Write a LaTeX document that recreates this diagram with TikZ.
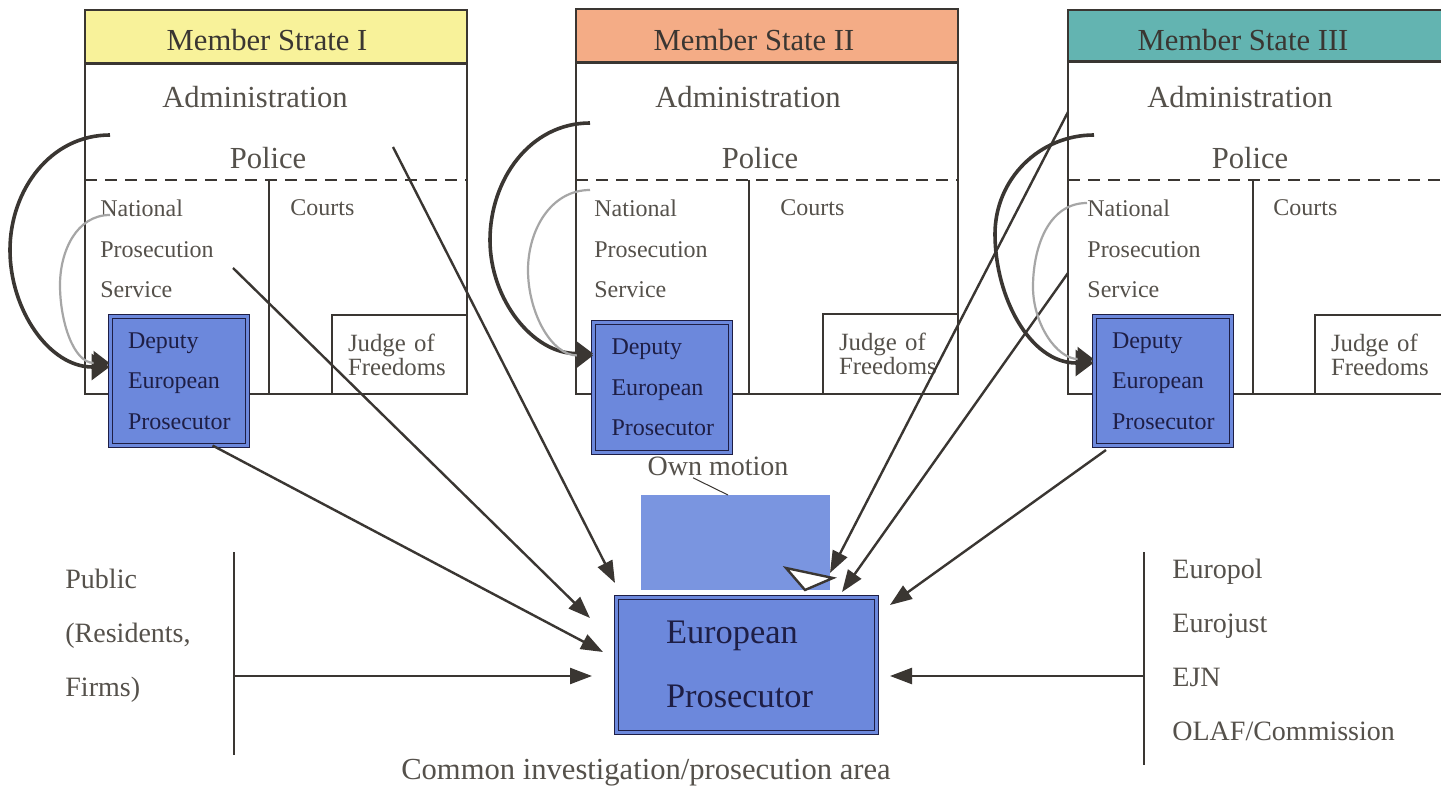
\documentclass[tikz,border=0pt]{standalone}
\usepackage{fontspec}
\setmainfont{Liberation Serif}
\usetikzlibrary{arrows.meta}

\definecolor{msyellow}{HTML}{F8F29A}
\definecolor{mssalmon}{HTML}{F4AC86}
\definecolor{msteal}{HTML}{63B4B1}
\definecolor{epblue}{HTML}{6C88DC}
\definecolor{ownblue}{HTML}{7A95E0}
\definecolor{ink}{HTML}{3A3632}
\definecolor{txt}{HTML}{55514B}
\definecolor{navy}{HTML}{1E1E45}

\begin{document}
\begin{tikzpicture}[x=0.5pt,y=-0.5pt]
            \tikzset{box/.style={draw=ink, line width=1pt}}
            \tikzset{dsh/.style={draw=ink, line width=0.8pt, dash pattern=on 6pt off 4pt}}
            \tikzset{big/.style={text=txt, inner sep=0pt, font=\fontsize{15.3}{18}\selectfont}}
            \tikzset{sml/.style={text=txt, inner sep=0pt, anchor=west, align=left, font=\fontsize{12}{20.25}\selectfont}}
            \tikzset{side/.style={text=txt, inner sep=0pt, anchor=west, align=left, font=\fontsize{14}{27}\selectfont}}
            \tikzset{judge/.style={box, fill=white, minimum height=39.5pt, inner xsep=8pt, align=left, text=txt, font=\fontsize{12.4}{12}\selectfont}}
            \tikzset{dep/.style={draw=navy, line width=0.5pt, double=epblue, double distance=1.5pt, fill=epblue, minimum width=68.5pt, minimum height=64pt, text width=50.5pt, inner xsep=9pt, align=left, text=navy, font=\fontsize{12}{20.25}\selectfont}}
            \tikzset{arr/.style={draw=ink, line width=1.2pt, -{Triangle[length=11pt,width=8pt]}}}
            \tikzset{bigcurve/.style={draw=ink, line width=1.8pt, -{Triangle[length=9pt,width=13pt]}}}
            \tikzset{smlcurve/.style={draw=gray!70, line width=1.1pt, -{Triangle[length=8pt,width=12pt,color=ink]}}}

            \fill[white] (0,0) rectangle (1441,791);
            \useasboundingbox (0,0) rectangle (1441,791);

            % Member State I
            \fill[msyellow] (85,10) rectangle (467,64);
            \draw[box] (85,10) rectangle (467,394);
            \draw[box, line width=1.5pt] (85,64) -- (467,64);
            \draw[dsh] (85,180) -- (467,180);
            \draw[ink, line width=0.7pt] (269,180) -- (269,394);
            \node[big, text=ink] (ttl1) at (267,40) {Member Strate I};
            \node[big] (adm1) at (255,97) {Administration};
            \node[big] (pol1) at (268,158) {Police};
            \node[sml] (nps1) at (100,249) {National\\Prosecution\\Service};
            \node[sml] (crt1) at (290,208) {Courts};
            \node[judge, minimum width=67.5pt, text width=51.5pt] (jdg1) at (399.5,354.5) {Judge of\\Freedoms};
            \node[dep] (dep1) at (178.5,381) {Deputy\\European\\Prosecutor};

            % Member State II
            \fill[mssalmon] (576,9) rectangle (958,63);
            \draw[box] (576,9) rectangle (958,394);
            \draw[box, line width=1.5pt] (576,63) -- (958,63);
            \draw[dsh] (576,180) -- (958,180);
            \draw[ink, line width=0.7pt] (749,180) -- (749,394);
            \node[big, text=ink] (ttl2) at (754,40) {Member State II};
            \node[big] (adm2) at (748,97) {Administration};
            \node[big] (pol2) at (760,158) {Police};
            \node[sml] (nps2) at (594,249) {National\\Prosecution\\Service};
            \node[sml] (crt2) at (780,208) {Courts};
            \node[judge, minimum width=67.5pt, text width=51.5pt] (jdg2) at (890.5,354) {Judge of\\Freedoms};
            \node[dep, minimum height=64.5pt] (dep2) at (662,387.5) {Deputy\\European\\Prosecutor};

            % Member State III
            \fill[msteal] (1068,10) rectangle (1460,62);
            \draw[box] (1068,10) rectangle (1460,394);
            \draw[box, line width=1.5pt] (1068,62) -- (1460,62);
            \draw[dsh] (1068,180) -- (1460,180);
            \draw[ink, line width=0.7pt] (1253,180) -- (1253,394);
            \node[big, text=ink] (ttl3) at (1243,40) {Member State III};
            \node[big] (adm3) at (1240,97) {Administration};
            \node[big] (pol3) at (1250,158) {Police};
            \node[sml] (nps3) at (1087,249) {National\\Prosecution\\Service};
            \node[sml] (crt3) at (1273,208) {Courts};
            \node[judge, minimum width=72.5pt, text width=56.5pt] (jdg3) at (1387.5,354.5) {Judge of\\Freedoms};
            \node[dep] (dep3) at (1162.5,381) {Deputy\\European\\Prosecutor};

            % common area
            \node[fill=ownblue, minimum width=94.5pt, minimum height=47.5pt, inner sep=0pt] (own) at (735.5,542.5) {};
            \node[big, font=\fontsize{14}{16}\selectfont] (ownlbl) at (718,466) {Own motion};
            \coordinate (owntip) at (728,495);
            \draw[ink, line width=0.5pt] ([xshift=-12.5pt,yshift=-1pt]ownlbl.south) -- (owntip);
            \draw[ink, line width=1.2pt, fill=white] (786,568) -- (805,590) -- (833,578) -- cycle;
            \node[dep, minimum width=130pt, minimum height=67.5pt, text width=80pt, inner xsep=25pt, font=\fontsize{17.2}{32}\selectfont] (ep) at (746,664.5) {European\\Prosecutor};

            \node[side] (pub) at (65,636) {Public\\(Residents,\\Firms)};
            \node[side] (oth) at (1172,650) {Europol\\Eurojust\\EJN\\OLAF/Commission};
            \node[big] (area) at (646,773) {Common investigation/prosecution area};

            \coordinate (pubtop) at (234,552);
            \coordinate (pubbot) at (234,755);
            \coordinate (pubmid) at (234,676);
            \coordinate (othtop) at (1144,552);
            \coordinate (othbot) at (1144,765);
            \coordinate (othmid) at (1144,676);
            \draw[ink, line width=0.7pt] (pubtop) -- (pubbot);
            \draw[ink, line width=0.7pt] (othtop) -- (othbot);

            % arrows into the European Prosecutor
            \coordinate (src1) at (393,147);
            \coordinate (src2) at (233,268);
            \coordinate (src3) at (1068,112);
            \coordinate (src4) at (1068,273);
            \coordinate (src5) at (1106,450);
            \coordinate (in1) at (615,583);
            \coordinate (in2) at (590,618);
            \coordinate (in3) at (603,652);
            \coordinate (in4) at (592,676);
            \coordinate (in5) at (830,573);
            \coordinate (in6) at (842,592);
            \coordinate (in7) at (890,605);
            \coordinate (in8) at (890,676);
            \draw[arr] (src1) -- (in1);
            \draw[arr] (src2) -- (in2);
            \draw[arr] ([xshift=17pt]dep1.south) -- (in3);
            \draw[arr] (pubmid) -- (in4);
            \draw[arr] (src3) -- (in5);
            \draw[arr] (src4) -- (in6);
            \draw[arr] (src5) -- (in7);
            \draw[arr] (othmid) -- (in8);

            % curved arrows to the deputies
            \draw[bigcurve] (110,135) to[out=180,in=90] (10,250) to[out=-90,in=180] ([yshift=7pt]dep1.west);
            \draw[smlcurve] (110,215) to[out=180,in=90] (60,285) to[out=-90,in=180] ([yshift=9pt]dep1.west);
            \draw[bigcurve] (590,123) to[out=180,in=90] (490,240) to[out=-90,in=180] ([yshift=17pt]dep2.west);
            \draw[smlcurve] (590,190) to[out=180,in=90] (528,270) to[out=-90,in=180] ([yshift=16pt]dep2.west);
            \draw[bigcurve] (1094,135) to[out=180,in=90] (995,234) to[out=-90,in=180] ([yshift=9pt]dep3.west);
            \draw[smlcurve] (1087,203) to[out=180,in=90] (1033,287) to[out=-90,in=180] ([yshift=11pt]dep3.west);
\end{tikzpicture}
\end{document}
